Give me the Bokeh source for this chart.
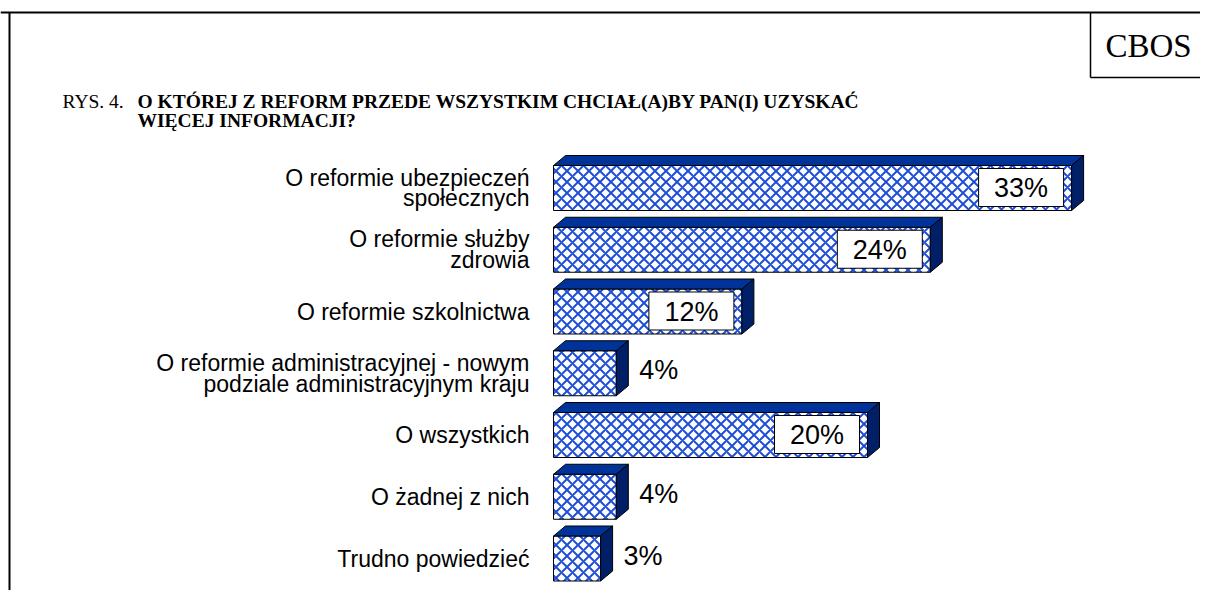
from bokeh.plotting import figure
from bokeh.models import Range1d
from bokeh.core.properties import value
from bokeh.embed import file_html
from bokeh.resources import INLINE

# ---------------- data ----------------
categories = [
    "O reformie ubezpieczeń\nspołecznych",
    "O reformie służby\nzdrowia",
    "O reformie szkolnictwa",
    "O reformie administracyjnej - nowym\npodziale administracyjnym kraju",
    "O wszystkich",
    "O żadnej z nich",
    "Trudno powiedzieć",
]
values = [33, 24, 12, 4, 20, 4, 3]
value_labels = ["33%", "24%", "12%", "4%", "20%", "4%", "3%"]

title_prefix = "RYS. 4."
title_lines = [
    "O KTÓREJ Z REFORM PRZEDE WSZYSTKIM CHCIAŁ(A)BY PAN(I) UZYSKAĆ",
    "WIĘCEJ INFORMACJI?",
]
brand = "CBOS"

# ---------------- layout ----------------
W, H = 1200, 590
X0 = 553.0    # px of 0 %
SX = 15.7     # px per percent
Y0 = 187.5    # px of first row centre
SY = 61.75    # px per row


def dxp(px):
    return px / SX


def dyp(px):
    return px / SY


def PX(x):
    return (x - X0) / SX


def PY(y):
    return (y - Y0) / SY


p = figure(width=W, height=H,
           x_range=Range1d(PX(0), PX(W)),
           y_range=Range1d(PY(H), PY(0)),
           output_backend="svg", toolbar_location=None, min_border=0)
p.axis.visible = False
p.grid.visible = False
p.outline_line_color = None
p.background_fill_color = "white"
p.border_fill_color = "white"

rows = list(range(len(categories)))
hh = dyp(22.5)      # half height of bar front
ddx = dxp(12)       # depth offset x
ddy = dyp(10)       # depth offset y

# front faces (hatched)
p.quad(left=[0] * len(values), right=values,
       top=[r - hh for r in rows], bottom=[r + hh for r in rows],
       fill_color="white", hatch_pattern="diagonal_cross",
       hatch_color="#1f4fd6", hatch_weight=2, hatch_scale=11,
       line_color="black", line_width=1)

# top faces
top_xs = [[0, v, v + ddx, ddx] for v in values]
top_ys = [[r - hh, r - hh, r - hh - ddy, r - hh - ddy] for r in rows]
p.patches(top_xs, top_ys, fill_color="#003399", line_color="black", line_width=1)

# side faces
side_xs = [[v, v + ddx, v + ddx, v] for v in values]
side_ys = [[r - hh, r - hh - ddy, r + hh - ddy, r + hh] for r in rows]
p.patches(side_xs, side_ys, fill_color="#001f66", line_color="black", line_width=1)

# value labels
in_v = [(v, r, t) for v, r, t in zip(values, rows, value_labels) if v >= 10]
out_v = [(v, r, t) for v, r, t in zip(values, rows, value_labels) if v < 10]

p.quad(left=[v - dxp(93) for v, r, t in in_v], right=[v - dxp(8) for v, r, t in in_v],
       top=[r - dyp(19.5) for v, r, t in in_v], bottom=[r + dyp(18.5) for v, r, t in in_v],
       fill_color="white", line_color="black", line_width=1)
p.text(x=[v - dxp(50.5) for v, r, t in in_v], y=[r for v, r, t in in_v],
       text=[t for v, r, t in in_v], text_align="center", text_baseline="middle",
       text_font=value("Liberation Sans"), text_font_size="27px", text_color="black")
p.text(x=[v for v, r, t in out_v], y=[r for v, r, t in out_v],
       text=[t for v, r, t in out_v], x_offset=23, y_offset=-3,
       text_align="left", text_baseline="middle",
       text_font=value("Liberation Sans"), text_font_size="27px", text_color="black")

# category labels
p.text(x=[0] * len(categories), y=rows, text=categories, x_offset=-24,
       text_align="right", text_baseline="middle", text_line_height=0.8,
       text_font=value("Liberation Sans"), text_font_size="23px", text_color="black")

# frame
p.segment(x0=[PX(0), PX(9)], y0=[PY(12), PY(12)], x1=[PX(1209), PX(9)], y1=[PY(12), PY(593)],
          line_color="black", line_width=2)
p.segment(x0=[PX(1090), PX(1090)], y0=[PY(12), PY(77)], x1=[PX(1090), PX(1209)], y1=[PY(77), PY(77)],
          line_color="black", line_width=1.5)
p.text(x=[PX(1148)], y=[PY(45)], text=[brand], text_align="center", text_baseline="middle",
       text_font=value("Liberation Serif"), text_font_size="33px", text_color="black")

# title
p.text(x=[PX(62)], y=[PY(101)], text=[title_prefix], text_align="left", text_baseline="middle",
       text_font=value("Liberation Serif"), text_font_size="19.5px", text_color="black")
p.text(x=[PX(137), PX(137)], y=[PY(101), PY(120)], text=title_lines,
       text_align="left", text_baseline="middle",
       text_font=value("Liberation Serif"), text_font_size="19.5px",
       text_font_style="bold", text_color="black")

open("out.html", "w").write(file_html(p, INLINE))
